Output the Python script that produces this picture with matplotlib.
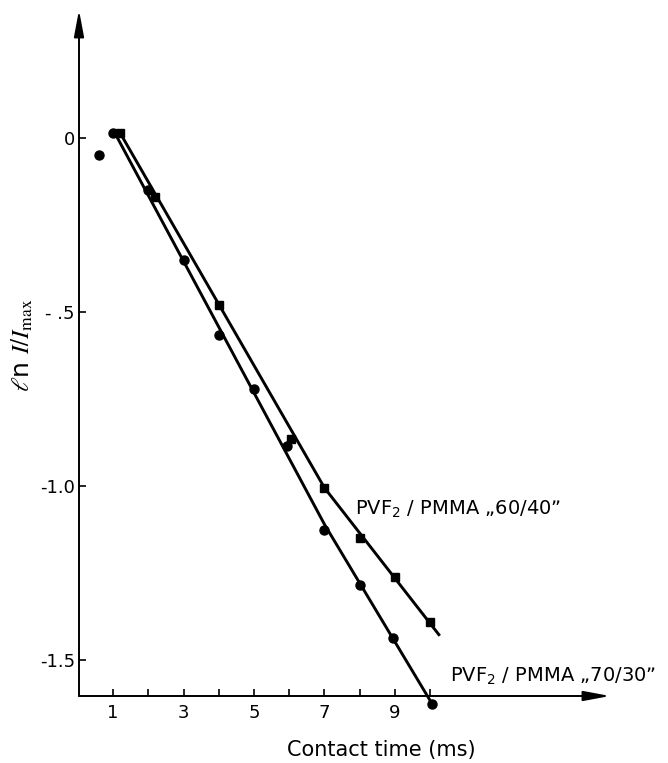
import matplotlib
matplotlib.use('Agg')
import matplotlib.pyplot as plt

# 70/30 blend (circles)
x_7030 = [0.6, 1.0, 2.0, 3.0, 4.0, 5.0, 5.95, 7.0, 8.0, 8.95, 10.05]
y_7030 = [-0.05, 0.015, -0.15, -0.35, -0.565, -0.72, -0.885, -1.125, -1.285, -1.435, -1.625]
# 60/40 blend (squares)
x_6040 = [1.2, 2.2, 4.0, 6.05, 7.0, 8.0, 9.0, 10.0]
y_6040 = [0.015, -0.17, -0.48, -0.865, -1.005, -1.15, -1.26, -1.39]

# hand drawn fit lines
fit_7030_x = [1.05, 7.0, 10.05]
fit_7030_y = [0.015, -1.11, -1.625]
fit_6040_x = [1.2, 7.0, 10.27]
fit_6040_y = [0.015, -1.005, -1.43]

xticks = list(range(1, 11))
xticklabels = ['1', '', '3', '', '5', '', '7', '', '9', '']
yticks = [0, -0.5, -1.0, -1.5]
yticklabels = ['0', '- .5', '-1.0', '-1.5']

fig = plt.figure(figsize=(6.68, 7.63), dpi=100)
ax = fig.add_axes([79/668, 1-696/763, (610-79)/668, (696-10)/763])
ax.set_xlim(0.035, 15.1)
ax.set_ylim(-1.603, 0.368)

for s in ax.spines.values():
    s.set_visible(False)

# axes drawn as arrows
ax.annotate('', xy=(1, 0), xytext=(0, 0), xycoords='axes fraction',
            arrowprops=dict(arrowstyle='-|>,head_length=1.6,head_width=0.3',
                            lw=1.4, color='black', mutation_scale=10, shrinkA=0, shrinkB=0))
ax.annotate('', xy=(0, 1), xytext=(0, 0), xycoords='axes fraction',
            arrowprops=dict(arrowstyle='-|>,head_length=1.6,head_width=0.3',
                            lw=1.4, color='black', mutation_scale=10, shrinkA=0, shrinkB=0))

ax.plot(fit_7030_x, fit_7030_y, color='black', lw=2.1, clip_on=False, solid_capstyle='butt')
ax.plot(fit_6040_x, fit_6040_y, color='black', lw=2.1, clip_on=False, solid_capstyle='butt')
ax.plot(x_7030, y_7030, 'o', color='black', ms=6.5, clip_on=False)
ax.plot(x_6040, y_6040, 's', color='black', ms=5.5, clip_on=False)

ax.set_xticks(xticks)
ax.set_xticklabels(xticklabels)
ax.set_yticks(yticks)
ax.set_yticklabels(yticklabels)
ax.tick_params(direction='in', length=5, width=1.2, labelsize=13, pad=6)
ax.tick_params(axis='y', pad=3)

ax.text(7.87, -1.083, 'PVF$_2$ / PMMA \u201e60/40\u201d', fontsize=14, va='baseline')
ax.text(10.56, -1.563, 'PVF$_2$ / PMMA \u201e70/30\u201d', fontsize=14, va='baseline')

fig.text(381/668, 1-750/763, 'Contact time (ms)', fontsize=15, ha='center', va='center')
fig.text(22/668, 1-345/763, r'$\ell$n $I/I_{\rm max}$', fontsize=18, rotation=90,
         ha='center', va='center', math_fontfamily='stix')

fig.savefig('out.png', dpi=100)
